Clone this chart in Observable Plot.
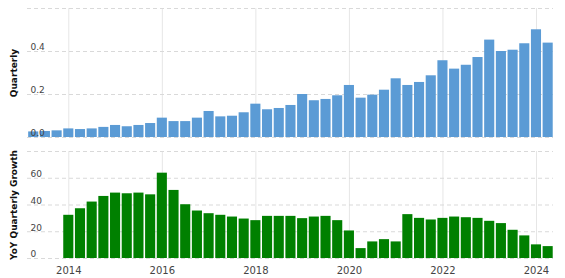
<!DOCTYPE html>
<html><head><meta charset="utf-8">
<script src="https://cdn.jsdelivr.net/npm/d3@7"></script>
<script src="https://cdn.jsdelivr.net/npm/@observablehq/plot@0.6"></script>
<style>
body{margin:0;background:#fff;font-family:"DejaVu Sans",sans-serif}
#chart svg{display:block}
</style>
</head><body><div id="chart"></div>
<script>
const quarters = [
  "2013-Q1","2013-Q2","2013-Q3","2013-Q4",
  "2014-Q1","2014-Q2","2014-Q3","2014-Q4",
  "2015-Q1","2015-Q2","2015-Q3","2015-Q4",
  "2016-Q1","2016-Q2","2016-Q3","2016-Q4",
  "2017-Q1","2017-Q2","2017-Q3","2017-Q4",
  "2018-Q1","2018-Q2","2018-Q3","2018-Q4",
  "2019-Q1","2019-Q2","2019-Q3","2019-Q4",
  "2020-Q1","2020-Q2","2020-Q3","2020-Q4",
  "2021-Q1","2021-Q2","2021-Q3","2021-Q4",
  "2022-Q1","2022-Q2","2022-Q3","2022-Q4",
  "2023-Q1","2023-Q2","2023-Q3","2023-Q4",
  "2024-Q1"
];
const quarterlyValues = [
  0.026,0.028,0.031,0.040,0.037,0.040,0.047,0.056,0.050,0.056,
  0.065,0.090,0.074,0.074,0.090,0.121,0.096,0.099,0.115,0.155,
  0.129,0.135,0.149,0.200,0.171,0.177,0.194,0.242,0.183,0.197,
  0.220,0.273,0.242,0.256,0.287,0.357,0.318,0.336,0.372,0.453,
  0.400,0.406,0.436,0.501,0.439
];
const growthQuarters = [
  "2013-Q4",
  "2014-Q1","2014-Q2","2014-Q3","2014-Q4",
  "2015-Q1","2015-Q2","2015-Q3","2015-Q4",
  "2016-Q1","2016-Q2","2016-Q3","2016-Q4",
  "2017-Q1","2017-Q2","2017-Q3","2017-Q4",
  "2018-Q1","2018-Q2","2018-Q3","2018-Q4",
  "2019-Q1","2019-Q2","2019-Q3","2019-Q4",
  "2020-Q1","2020-Q2","2020-Q3","2020-Q4",
  "2021-Q1","2021-Q2","2021-Q3","2021-Q4",
  "2022-Q1","2022-Q2","2022-Q3","2022-Q4",
  "2023-Q1","2023-Q2","2023-Q3","2023-Q4",
  "2024-Q1"
];
const growthValues = [
  32.3,37.2,42.2,46.4,48.9,48.4,48.9,47.6,63.8,50.9,
  40.2,35.5,33.5,32.3,31.0,29.5,28.3,31.5,31.5,31.5,
  29.8,31.0,31.5,28.3,20.6,7.4,12.4,14.1,12.4,32.8,
  30.0,28.8,30.0,31.0,30.5,30.0,27.8,26.1,21.1,16.9,
  10.2,8.9
];
const xTicks = [2014, 2016, 2018, 2020, 2022, 2024];
const topGrid = [0, 0.2, 0.4, 0.6];
const topTickValues = [0, 0.2, 0.4];
const topTickLabels = ["0.0", "0.2", "0.4"];
const bottomGrid = [0, 20, 40, 60, 80];
const bottomTickValues = [0, 20, 40, 60];
const bottomTickLabels = ["0", "20", "40", "60"];
const topTitle = "Quarterly";
const bottomTitle = "YoY Quarterly Growth";

const qToYear = q => { const [y, n] = q.split("-Q"); return +y + (+n) / 4; };
const topData = quarters.map((q, i) => ({t: qToYear(q), v: quarterlyValues[i]}));
const bottomData = growthQuarters.map((q, i) => ({t: qToYear(q), v: growthValues[i]}));

const xDomain = [2013.117, 2024.364];
const half = 0.108;
const font = "DejaVu Sans";

const topChart = Plot.plot({
  width: 565, height: 140,
  marginLeft: 27, marginRight: 12, marginTop: 8, marginBottom: 3,
  style: {fontFamily: font, background: "#fff"},
  x: {domain: xDomain, axis: null},
  y: {domain: [0, 0.6], axis: null},
  marks: [
    Plot.ruleX(xTicks, {x: d => d, stroke: "#e6e6e6"}),
    Plot.ruleY(topGrid, {y: d => d, stroke: "#d9d9d9", strokeDasharray: "4,3"}),
    Plot.rect(topData, {x1: d => d.t - half, x2: d => d.t + half, y1: 0, y2: "v", fill: "#5b9bd5"}),
    Plot.text(topTickValues, {y: d => d, text: (d, i) => topTickLabels[i], frameAnchor: "left", textAnchor: "start", dx: 3, dy: -4, fontSize: 9, fill: "#444"}),
    Plot.text([topTitle], {text: d => d, frameAnchor: "left", textAnchor: "middle", rotate: -90, dx: -13, fontSize: 9, fontWeight: "bold", fill: "#111"})
  ]
});

const bottomChart = Plot.plot({
  width: 565, height: 138,
  marginLeft: 27, marginRight: 12, marginTop: 11, marginBottom: 20,
  style: {fontFamily: font, background: "#fff"},
  x: {domain: xDomain, axis: null},
  y: {domain: [0, 80], axis: null},
  marks: [
    Plot.ruleX(xTicks, {x: d => d, stroke: "#e6e6e6"}),
    Plot.ruleY(bottomGrid, {y: d => d, stroke: "#d9d9d9", strokeDasharray: "4,3"}),
    Plot.rect(bottomData, {x1: d => d.t - half, x2: d => d.t + half, y1: 0, y2: "v", fill: "#008000"}),
    Plot.text(bottomTickValues, {y: d => d, text: (d, i) => bottomTickLabels[i], frameAnchor: "left", textAnchor: "start", dx: 3, dy: -4, fontSize: 9, fill: "#444"}),
    Plot.text([bottomTitle], {text: d => d, frameAnchor: "left", textAnchor: "middle", rotate: -90, dx: -13, fontSize: 9, fontWeight: "bold", fill: "#111"}),
    Plot.axisX(xTicks, {tickSize: 0, tickPadding: 8, tickFormat: d => String(d), fontSize: 10, fill: "#444"})
  ]
});

document.getElementById("chart").append(topChart, bottomChart);
</script>
</body></html>
